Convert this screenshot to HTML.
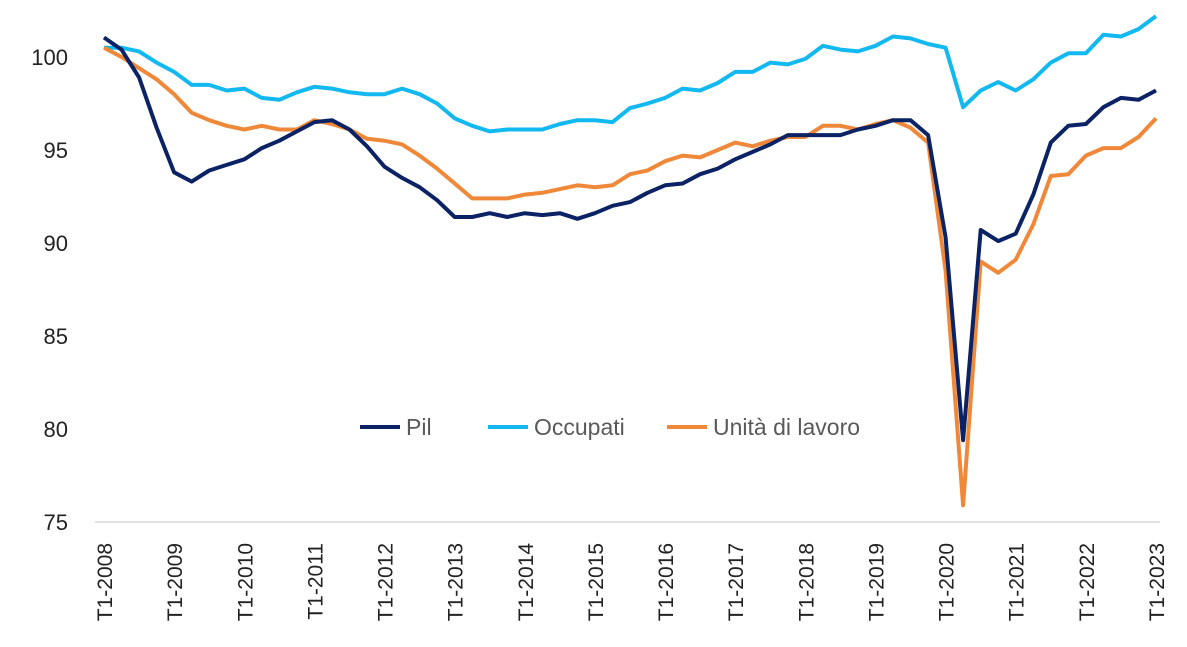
<!DOCTYPE html>
<html><head><meta charset="utf-8"><style>
html,body{margin:0;padding:0;background:#fff;}
svg{display:block;font-family:"Liberation Sans",Calibri,sans-serif;}
</style></head><body>
<svg id="chart" width="1187" height="647" viewBox="0 0 1187 647" xmlns="http://www.w3.org/2000/svg">
<g id="yaxis"></g>
<g id="xaxis"></g>
<g id="series"></g>
<g id="legend"></g>
</svg>
<script>
const yTicks=[75,80,85,90,95,100];
const xLabels=["T1-2008","T1-2009","T1-2010","T1-2011","T1-2012","T1-2013","T1-2014","T1-2015","T1-2016","T1-2017","T1-2018","T1-2019","T1-2020","T1-2021","T1-2022","T1-2023"];
const pil=[101.05,100.4,98.9,96.2,93.8,93.3,93.9,94.2,94.5,95.1,95.5,96.0,96.5,96.6,96.1,95.2,94.1,93.5,93.0,92.3,91.4,91.4,91.6,91.4,91.6,91.5,91.6,91.3,91.6,92.0,92.2,92.7,93.1,93.2,93.7,94.0,94.5,94.9,95.3,95.8,95.8,95.8,95.8,96.1,96.3,96.6,96.6,95.8,90.3,79.4,90.7,90.1,90.5,92.6,95.4,96.3,96.4,97.3,97.8,97.7,98.2];
const occupati=[100.5,100.5,100.3,99.7,99.2,98.5,98.5,98.2,98.3,97.8,97.7,98.1,98.4,98.3,98.1,98.0,98.0,98.3,98.0,97.5,96.7,96.3,96.0,96.1,96.1,96.1,96.4,96.6,96.6,96.5,97.25,97.5,97.8,98.3,98.2,98.6,99.2,99.2,99.7,99.6,99.9,100.6,100.4,100.3,100.6,101.1,101.0,100.7,100.5,97.3,98.2,98.65,98.2,98.8,99.7,100.2,100.2,101.2,101.1,101.5,102.2];
const unita=[100.5,100.0,99.4,98.8,98.0,97.0,96.6,96.3,96.1,96.3,96.1,96.1,96.6,96.4,96.1,95.6,95.5,95.3,94.7,94.0,93.2,92.4,92.4,92.4,92.6,92.7,92.9,93.1,93.0,93.1,93.7,93.9,94.4,94.7,94.6,95.0,95.4,95.2,95.5,95.7,95.7,96.3,96.3,96.1,96.4,96.6,96.2,95.4,88.5,75.9,89.0,88.4,89.1,91.0,93.6,93.7,94.7,95.1,95.1,95.7,96.7];
const seriesNames=["Pil","Occupati","Unità di lavoro"];
const NS="http://www.w3.org/2000/svg";
const x0=104,x1=1156,y0v=75,y0p=522,pxPerUnit=18.6;
const n=pil.length;
function xs(i){return x0+(x1-x0)*i/(n-1);}
function ys(v){return y0p-(v-y0v)*pxPerUnit;}
function mk(tag,attrs,parent){const e=document.createElementNS(NS,tag);for(const k in attrs)e.setAttribute(k,attrs[k]);parent.appendChild(e);return e;}
const ya=document.getElementById('yaxis');
yTicks.forEach(t=>{
  const tx=mk('text',{x:68,y:ys(t)+8,'text-anchor':'end','font-size':22,fill:'#222'},ya);
  
  
  tx.textContent=t;
});
const xa=document.getElementById('xaxis');
const axl=mk('line',{x1:95,x2:1160,y1:522,y2:522,stroke:'#d9d9d9','stroke-width':1.5},xa);


xLabels.forEach((l,k)=>{
  const px=xs(k*4);
  const tx=mk('text',{x:0,y:0,'text-anchor':'end','font-size':21,fill:'#222',transform:`translate(${px+8},543) rotate(-90)`},xa);
  
  
  tx.textContent=l;
});
const colors=["#0b2265","#12b8f0","#f0883a"];
const data=[pil,occupati,unita];
const sg=document.getElementById('series');
const order=[1,2,0];
order.forEach(s=>{
  const d=data[s].map((v,i)=>(i?'L':'M')+xs(i).toFixed(1)+','+ys(v).toFixed(1)).join('');
  const p=mk('path',{d:d,fill:'none',stroke:colors[s],'stroke-width':4,'stroke-linejoin':'round'},sg);
  
  
});
const lg=document.getElementById('legend');
const lx=[360,488,667];
seriesNames.forEach((nm,s)=>{
  const g=mk('g',{},lg);
  
  
  mk('line',{x1:lx[s],x2:lx[s]+40,y1:427,y2:427,stroke:colors[s],'stroke-width':4},g);
  const t=mk('text',{x:lx[s]+46,y:435,'font-size':23,fill:'#595959'},g);
  t.textContent=nm;
});
</script>
</body></html>
